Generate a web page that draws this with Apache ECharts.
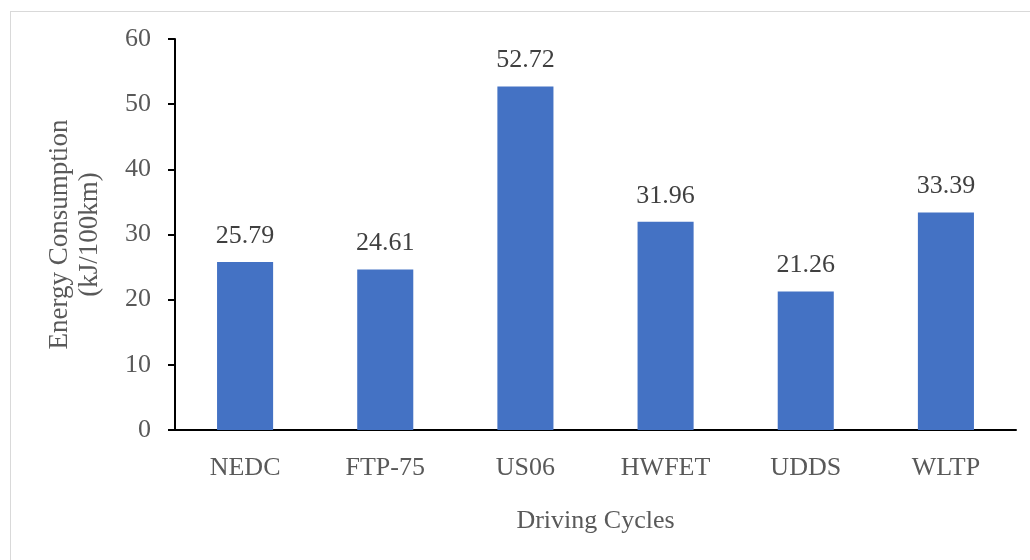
<!DOCTYPE html>
<html>
<head>
<meta charset="utf-8">
<script src="https://cdn.jsdelivr.net/npm/echarts@6/dist/echarts.min.js"></script>
<style>
  html, body { margin: 0; padding: 0; background: #fff; }
  #frame { position: absolute; left: 10px; top: 11px; width: 1030px; height: 560px; border: 1px solid #d9d9d9; box-sizing: border-box; }
  #chart { position: absolute; left: 0; top: 0; width: 1030px; height: 560px; }
</style>
</head>
<body>
<div id="frame"></div>
<div id="chart"></div>
<script>
// 行驶工况
const cycles = ['NEDC', 'FTP-75', 'US06', 'HWFET', 'UDDS', 'WLTP']
// 能耗 kJ/100km
const energy = [25.79, 24.61, 52.72, 31.96, 21.26, 33.39]

const serif = 'Liberation Serif'
const fs = 26

const chart = echarts.init(document.getElementById('chart'))
chart.setOption({
  animation: false,
  grid: { left: 175, right: 14, top: 39, bottom: 130 },
  xAxis: {
    type: 'category',
    data: cycles,
    name: 'Driving Cycles',
    nameLocation: 'middle',
    nameGap: 78,
    nameTextStyle: { fontFamily: serif, fontSize: fs, color: '#595959' },
    axisLine: { lineStyle: { color: '#000', width: 2 } },
    axisTick: { show: false },
    axisLabel: { fontFamily: serif, fontSize: fs, color: '#595959', margin: 25 }
  },
  yAxis: {
    type: 'value',
    min: 0,
    max: 60,
    interval: 10,
    name: 'Energy Consumption\n(kJ/100km)',
    nameLocation: 'middle',
    nameGap: 70,
    nameTextStyle: { fontFamily: serif, fontSize: 27, color: '#595959', lineHeight: 30 },
    axisLine: { show: true, lineStyle: { color: '#000', width: 2 } },
    axisTick: { show: true, length: 7, lineStyle: { color: '#000', width: 2 } },
    splitLine: { show: false },
    axisLabel: { fontFamily: serif, fontSize: fs, color: '#595959', margin: 24 }
  },
  series: [{
    type: 'bar',
    data: energy,
    barWidth: '40%',
    itemStyle: { color: '#4472C4' },
    label: {
      show: true,
      position: 'top',
      distance: 13,
      fontFamily: serif,
      fontSize: fs,
      color: '#404040'
    }
  }]
})
</script>
</body>
</html>
